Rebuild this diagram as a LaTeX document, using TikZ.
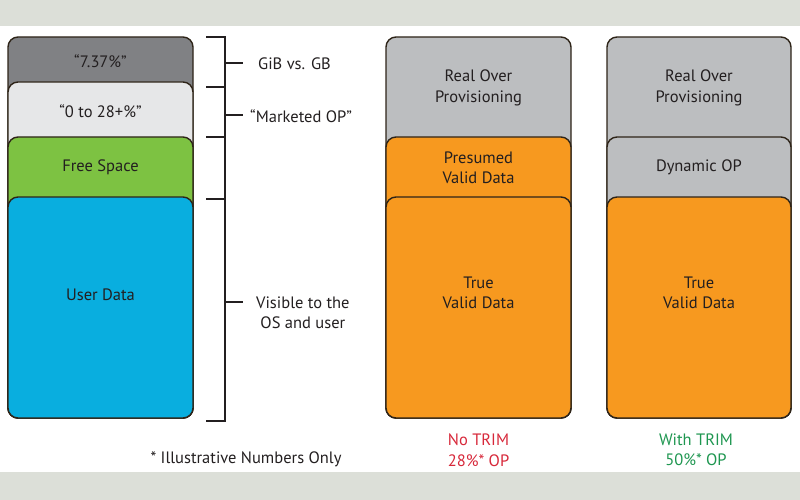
\documentclass[tikz,border=0pt]{standalone}
\usepackage{fontspec}
\setmainfont{PT Sans}
\definecolor{band}{HTML}{DCDFD8}
\definecolor{edge}{HTML}{2E2418}
\definecolor{dgray}{HTML}{808184}
\definecolor{lgray}{HTML}{E6E7E8}
\definecolor{mgray}{HTML}{BCBEC0}
\definecolor{fgreen}{HTML}{7DC242}
\definecolor{fblue}{HTML}{09AEDF}
\definecolor{forange}{HTML}{F7991F}
\definecolor{tred}{HTML}{D7283A}
\definecolor{tgreen}{HTML}{1E9650}
\definecolor{txt}{HTML}{231F20}
\tikzset{
  blk/.style={draw=edge, line width=1.4pt, rounded corners=10pt},
  lbl/.style={font=\fontsize{16.5}{20.5}\selectfont, text=txt, align=center, inner sep=0pt},
  brk/.style={draw=txt, line width=1.3pt},
}
\begin{document}
\begin{tikzpicture}[x=1pt,y=-1pt]
\useasboundingbox (0,0) rectangle (800,500);
\fill[band] (0,0) rectangle (800,26);
\fill[band] (0,472) rectangle (800,500);
% left column
\path[blk, fill=dgray] (8,37) rectangle (193,418);
\path[blk, fill=lgray] (8,82) rectangle (193,418);
\path[blk, fill=fgreen] (8,137) rectangle (193,418);
\path[blk, fill=fblue] (8,197) rectangle (193,418);
\node[lbl] (a1) at (100.5,61) {“7.37\%”};
\node[lbl] (a2) at (100.5,111) {“0 to 28+\%”};
\node[lbl] (a3) at (100.5,167) {Free Space};
\node[lbl] (a4) at (100.5,295) {User Data};
% bracket
\coordinate (t0) at (206,37);
\coordinate (t1) at (206,87);
\coordinate (t2) at (206,137);
\coordinate (t3) at (206,199);
\coordinate (t4) at (206,421);
\path[brk] (t0) -- (225,37) -- (225,421) -- (t4);
\path[brk] (t1) -- (225,87);
\path[brk] (t2) -- (225,137);
\path[brk] (t3) -- (225,199);
\node[lbl, anchor=west] (g1) at (258,64) {GiB vs. GB};
\node[lbl, anchor=west] (g2) at (250,116) {“Marketed OP”};
\node[lbl, anchor=west] (g3) at (256,313) {Visible to the\\OS and user};
\path[brk] (225,63) -- (243,63);
\path[brk] (225,115) -- (243,115);
\path[brk] (225,302) -- (243,302);
% middle column
\path[blk, fill=mgray] (386,37) rectangle (571,418);
\path[blk, fill=forange] (386,137) rectangle (571,418);
\path[blk, fill=forange] (386,197) rectangle (571,418);
\node[lbl] (m1) at (478.5,88) {Real Over\\Provisioning};
\node[lbl] (m2) at (478.5,168) {Presumed\\Valid Data};
\node[lbl] (m3) at (478.5,293) {True\\Valid Data};
% right column
\path[blk, fill=mgray] (607,37) rectangle (791,418);
\path[blk, fill=mgray] (607,137) rectangle (791,418);
\path[blk, fill=forange] (607,197) rectangle (791,418);
\node[lbl] (r1) at (699,88) {Real Over\\Provisioning};
\node[lbl] (r2) at (699,167) {Dynamic OP};
\node[lbl] (r3) at (699,293) {True\\Valid Data};
% captions
\node[lbl, text=tred] (c1) at (478.5,450) {No TRIM\\28\%* OP};
\node[lbl, text=tgreen] (c2) at (696,450) {With TRIM\\50\%* OP};
\node[lbl] (c3) at (246,459) {* Illustrative Numbers Only};
\end{tikzpicture}
\end{document}
